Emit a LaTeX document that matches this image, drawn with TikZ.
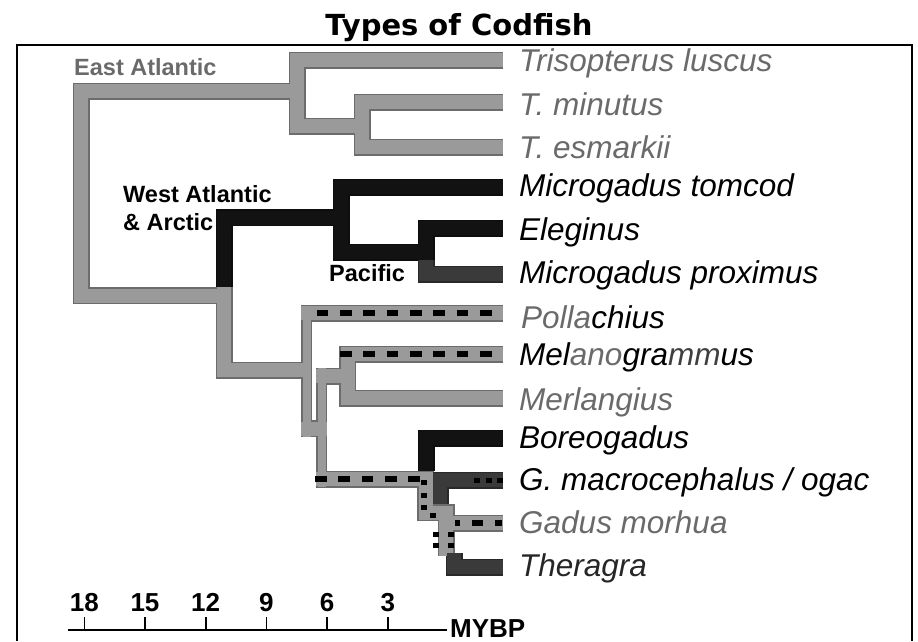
\documentclass[tikz,border=0pt]{standalone}
\usepackage{fontspec}
\setmainfont{Liberation Sans}
\newfontfamily\titlefont{DejaVu Sans}

\pgfdeclarelayer{rims}
\pgfsetlayers{rims,main}

\definecolor{barGray}{HTML}{9A9A9A}
\definecolor{barDark}{HTML}{3A3A3A}
\definecolor{barBlack}{HTML}{121212}
\definecolor{txtGray}{HTML}{6A6A6A}

\tikzset{
  rim/.style={draw=#1!70!black, line cap=butt, line join=miter},
  core/.style={draw=#1, line cap=butt, line join=miter},
  leaf/.style={anchor=base west, inner sep=0pt, font=\fontsize{31.5}{32}\selectfont\itshape},
  clade/.style={anchor=base west, inner sep=0pt, font=\fontsize{23.5}{28}\selectfont\bfseries},
  ticklab/.style={anchor=base, inner sep=0pt, font=\fontsize{26}{26}\selectfont\bfseries},
  pips/.style={draw=black, line width=5.5pt, line cap=butt},
}

% branch: dark rim on the lower layer, lighter core on top
\newcommand{\twig}[3][17]{%
  \begin{pgfonlayer}{rims}\draw[rim=#2, line width=#1pt] #3;\end{pgfonlayer}
  \draw[core=#2, line width=#1pt-3pt] #3;}

\begin{document}
\begin{tikzpicture}[x=1pt, y=-1pt]
  \useasboundingbox (0,0) rectangle (918,641);

  % title and frame
  \node[font=\titlefont\bfseries\fontsize{29}{29}\selectfont, anchor=base] (title) at (459,35) {Types of Codfish};
  \draw[line width=2pt] (17,641) -- (17,45) -- (912,45) -- (912,641);

  % leaf tips
  \foreach \n/\y in {Lus/60, Min/102, Esm/147, Tom/187, Ele/228, Pro/274, Pol/313,
                     Mel/354, Mer/398, Bor/438, Mac/480, Mor/523, The/567}
    \coordinate (t\n) at (503,\y);

  % inner nodes
  \coordinate (root) at (81,190);
  \coordinate (ea) at (297,91);
  \coordinate (tri) at (362,126);
  \coordinate (wa) at (224,295.5);
  \coordinate (atl) at (224,287);
  \coordinate (pac) at (341,217.5);
  \coordinate (ele) at (426,252);
  \coordinate (eleMid) at (426,260);
  \coordinate (pol) at (306.5,370);
  \coordinate (polL) at (301,313);
  \coordinate (polA) at (306.5,313);
  \coordinate (polB) at (306.5,437);
  \coordinate (stubL) at (301,428.5);
  \coordinate (stubR) at (327,428.5);
  \coordinate (melB) at (321.5,368);
  \coordinate (gadB) at (321.5,487);
  \coordinate (melL) at (316,376);
  \coordinate (mel) at (347.5,376);
  \coordinate (gadL) at (316,479);
  \coordinate (gadStep) at (425.5,512.5);
  \coordinate (morStem) at (446,556);
  \coordinate (morL) at (446,523);
  \coordinate (bor) at (426,470.5);
  \coordinate (mac) at (440,504);
  \coordinate (the) at (454,553);

  % east atlantic
  \twig{barGray}{(ea) -| (root) |- (wa)}
  \twig{barGray}{(tLus) -| (ea) |- (tri)}
  \twig{barGray}{(tMin) -| (tri) |- (tEsm)}

  % west atlantic & arctic
  \twig{barBlack}{(atl) |- (pac)}
  \twig{barBlack}{(tTom) -| (pac) |- (ele)}
  \twig{barBlack}{(tEle) -| (eleMid)}
  \twig{barDark}{(eleMid) |- (tPro)}

  % lower clade
  \twig{barGray}{(atl) |- (pol)}
  \twig{barGray}{(polL) -- (tPol)}
  \twig[11]{barGray}{(polA) -- (polB)}
  \twig{barGray}{(stubL) -- (stubR)}
  \twig[11]{barGray}{(melB) -- (gadB)}
  \twig{barGray}{(melL) -- (mel)}
  \twig{barGray}{(tMel) -| (mel) |- (tMer)}
  \twig{barBlack}{(tBor) -| (bor)}
  \twig{barGray}{(gadL) -| (gadStep) -| (morStem)}
  \twig{barGray}{(morL) -- (tMor)}
  \twig{barDark}{(tMac) -| (mac)}
  \twig{barDark}{(the) |- (tThe)}

  % dashes and dots
  \draw[pips, dash pattern=on 11.7pt off 11.6pt] (316.7,313) -- (492,313);
  \draw[pips, dash pattern=on 11.7pt off 11.6pt] (340,354) -- (492,354);
  \draw[pips, dash pattern=on 11.7pt off 11.6pt] (315,479) -- (421,479);
  \draw[pips, dash pattern=on 5pt off 12pt on 11pt off 12pt on 7pt off 9pt] (455,523) -- (502,523);
  \draw[pips, dash pattern=on 6pt off 5.5pt] (474,480.5) -- (503,480.5);
  \foreach \x/\y in {423.5/482.5, 423.5/495.5, 423.5/507.5, 432.5/515.5,
                     436/534.5, 436/545.5, 451/534.5, 451/545.5}
    \fill (\x-3,\y-2.8) rectangle ++(6,5.6);

  % clade labels
  \node[clade, text=txtGray] (east) at (74,75) {East Atlantic};
  \node[clade] (west) at (123,202.7) {West Atlantic};
  \node[clade] (arctic) at (123,230.7) {\& Arctic};
  \node[clade] (pacific) at (329,281.7) {Pacific};

  % species
  \node[leaf, text=txtGray] (lLus) at (519,71.7) {Trisopterus luscus};
  \node[leaf, text=txtGray] (lMin) at (519,115) {T. minutus};
  \node[leaf, text=txtGray] (lEsm) at (519,158.3) {T. esmarkii};
  \node[leaf] (lTom) at (519,196.7) {Microgadus tomcod};
  \node[leaf] (lEle) at (519,240) {Eleginus};
  \node[leaf] (lPro) at (519,283) {Microgadus proximus};
  \node[leaf] (lPol) at (521,328) {\textcolor{txtGray}{Polla}chius};
  \node[leaf] (lMel) at (519,365) {Mel\textcolor{txtGray}{ano}gra\textcolor{txtGray!60!black}{mm}us};
  \node[leaf, text=txtGray] (lMer) at (519,410) {Merlangius};
  \node[leaf] (lBor) at (519,448) {Boreogadus};
  \node[leaf] (lMac) at (519,490) {G. macrocephalus / ogac};
  \node[leaf, text=txtGray] (lMor) at (519,533) {Gadus morhua};
  \node[leaf, text=black!85] (lThe) at (519,576.7) {Theragra};

  % time axis
  \coordinate (axL) at (68,630);
  \coordinate (axR) at (447,630);
  \draw[line width=2pt] (axL) -- (axR);
  \foreach \v [count=\i from 0] in {18,15,12,9,6,3} {
    \draw[line width=1.6pt] (84.3+60.7*\i,630) -- ++(0,-13);
    \node[ticklab] at (84.3+60.7*\i,611.7) {\v};
  }
  \node[font=\fontsize{26}{26}\selectfont\bfseries, anchor=base west, inner sep=0pt] (mybp) at (450,637) {MYBP};
\end{tikzpicture}
\end{document}
